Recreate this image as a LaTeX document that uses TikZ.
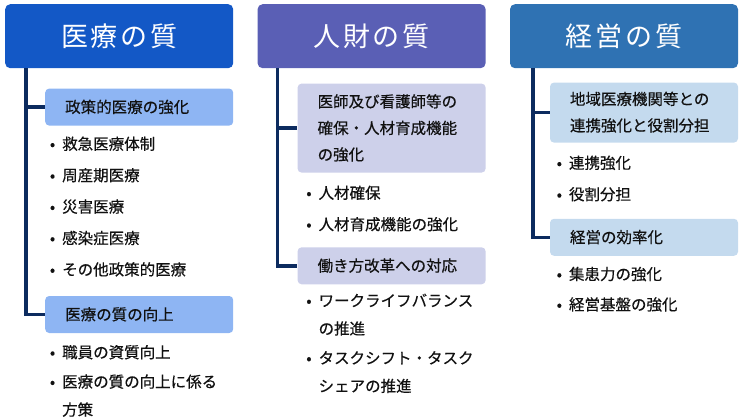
\documentclass[tikz,border=0pt]{standalone}
\usepackage{fontspec}
\setmainfont{Noto Sans CJK JP}
\usetikzlibrary{positioning}

\definecolor{medblue}{HTML}{1358C6}
\definecolor{hrblue}{HTML}{5A5FB5}
\definecolor{mgblue}{HTML}{2F72B3}
\definecolor{medlight}{HTML}{8EB5F3}
\definecolor{hrlight}{HTML}{CDD0EA}
\definecolor{mglight}{HTML}{C4DAEE}
\definecolor{spinecol}{HTML}{0C2B5F}
\definecolor{ink}{HTML}{111111}

\newcommand\headfont{\fontsize{27}{30}\selectfont\addfontfeature{LetterSpace=10}}
\newcommand\subfont{\fontsize{15.5}{26.5}\selectfont\addfontfeature{FakeBold=0.4}}
\newcommand\itemfont{\fontsize{15.5}{28}\selectfont\addfontfeature{FakeBold=0.4}}
\newcommand\bul{\llap{•\hspace{7pt}}}

\begin{document}
\begin{tikzpicture}[
  head/.style={
    anchor=north west,
    rounded corners=5pt,
    minimum width=228pt,
    minimum height=64pt,
    inner sep=0pt,
    text=white,
    font=\headfont
  },
  sub/.style={
    rounded corners=4pt,
    inner xsep=20pt,
    inner ysep=11pt,
    text width=148pt,
    align=left,
    text height=13.2pt,
    text depth=1.8pt,
    text=ink,
    font=\subfont
  },
  item/.style={
    inner sep=0pt,
    text width=175pt,
    align=left,
    text height=13.2pt,
    text depth=1.8pt,
    text=ink,
    font=\itemfont
  },
  twoline/.style={
    text depth=29.8pt
  },
  spine/.style={
    draw=spinecol,
    line width=3.5pt
  }
]
\useasboundingbox (0pt,0pt) rectangle (745pt,-420pt);

% Headers
\node[head, fill=medblue] (h1) at (5pt,-4pt) {医療の質};
\node[head, fill=hrblue, right=24pt of h1] (h2) {人財の質};
\node[head, fill=mgblue, right=24pt of h2] (h3) {経営の質};

% Column 1
\node[sub, fill=medlight, below right=20pt and 40pt of h1.south west] (med1) {政策的医療の強化};
\node[item, below right=10.5pt and 17pt of med1.south west] (med1a) {\bul 救急医療体制};
\node[item, below right=16pt and 0pt of med1a.south west] (med1b) {\bul 周産期医療};
\node[item, below right=16pt and 0pt of med1b.south west] (med1c) {\bul 災害医療};
\node[item, below right=16pt and 0pt of med1c.south west] (med1d) {\bul 感染症医療};
\node[item, below right=16pt and 0pt of med1d.south west] (med1e) {\bul その他政策的医療};
\node[sub, fill=medlight, below right=18.5pt and -17pt of med1e.south west] (med2) {医療の質の向上};
\node[item, below right=11.5pt and 17pt of med2.south west] (med2a) {\bul 職員の資質向上};
\node[item, twoline, below right=14pt and 0pt of med2a.south west] (med2b) {\bul 医療の質の向上に係る\\方策};

% Column 2
\node[sub, fill=hrlight, inner ysep=10.5pt, text depth=54.8pt, below right=15pt and 40pt of h2.south west] (hr1) {医師及び看護師等の\\確保・人材育成機能\\の強化};
\node[item, below right=12.5pt and 21pt of hr1.south west] (hr1a) {\bul 人材確保};
\node[item, below right=16pt and 0pt of hr1a.south west] (hr1b) {\bul 人材育成機能の強化};
\node[sub, fill=hrlight, below right=15pt and -21pt of hr1b.south west] (hr2) {働き方改革への対応};
\node[item, twoline, below right=8.5pt and 21pt of hr2.south west] (hr2a) {\bul ワークライフバランス\\の推進};
\node[item, twoline, below right=14pt and 0pt of hr2a.south west] (hr2b) {\bul タスクシフト・タスク\\シェアの推進};

% Column 3
\node[sub, fill=mglight, inner ysep=9pt, text depth=28.8pt, below right=14pt and 40pt of h3.south west] (mg1) {地域医療機関等との\\連携強化と役割分担};
\node[item, below right=12.5pt and 19pt of mg1.south west] (mg1a) {\bul 連携強化};
\node[item, below right=16pt and 0pt of mg1a.south west] (mg1b) {\bul 役割分担};
\node[sub, fill=mglight, below right=16.5pt and -19pt of mg1b.south west] (mg2) {経営の効率化};
\node[item, below right=10.5pt and 19pt of mg2.south west] (mg2a) {\bul 集患力の強化};
\node[item, below right=15pt and 0pt of mg2a.south west] (mg2b) {\bul 経営基盤の強化};

% Spines
\coordinate (t1) at ([xshift=21pt]h1.south west);
\coordinate (t2) at ([xshift=20pt]h2.south west);
\coordinate (t3) at ([xshift=23pt]h3.south west);
\draw[spine] (t1) |- (med2.west);
\draw[spine] (t1 |- med1.west) -- (med1.west);
\draw[spine] (t2) |- (hr2.west);
\draw[spine] (t2 |- hr1.west) -- (hr1.west);
\draw[spine] (t3) |- (mg2.west);
\draw[spine] (t3 |- mg1.west) -- (mg1.west);

\end{tikzpicture}
\end{document}
